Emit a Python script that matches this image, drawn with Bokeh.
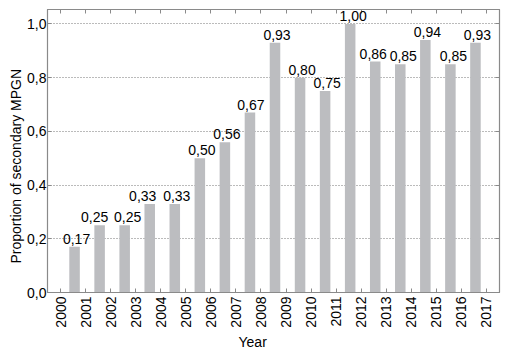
import math
from bokeh.plotting import figure
from bokeh.models import Range1d, FixedTicker, LinearAxis, ColumnDataSource, LabelSet, Title
from bokeh.core.properties import value
from bokeh.embed import file_html
from bokeh.resources import INLINE

years = list(range(2001, 2018))
proportions = [0.17, 0.25, 0.25, 0.33, 0.33, 0.50, 0.56, 0.67, 0.93, 0.80, 0.75,
               1.00, 0.86, 0.85, 0.94, 0.85, 0.93]
x_ticks = list(range(2000, 2018))
y_ticks = [0.0, 0.2, 0.4, 0.6, 0.8, 1.0]
y_tick_labels = ["0,0", "0,2", "0,4", "0,6", "0,8", "1,0"]
value_labels = [f"{v:.2f}".replace(".", ",") for v in proportions]

# horizontal nudges (px) of the value labels, as placed in the original figure
label_nudge_px = [2, -5, 3, -7, 2, 2, 2, 1, 2, 2, 2, 3, -2, 3, 2, 3, 2]

FONT = "Liberation Sans"
BAR = "#bcbdc0"
FRAME = "#8a8a8a"
TXT = "#000000"

src = ColumnDataSource(dict(x=[y - 0.44 for y in years], top=proportions,
                            lab=value_labels, dx=label_nudge_px))

p = figure(width=512, height=353, output_backend="svg", toolbar_location=None,
           x_range=Range1d(1999.48, 2017.52), y_range=Range1d(0, 1.054),
           x_axis_location=None, y_axis_location=None,
           min_border_left=47, min_border_right=13, min_border_top=9, min_border_bottom=61)
p.background_fill_color = "white"
p.border_fill_color = "white"
p.outline_line_color = FRAME
p.outline_line_width = 1.2

p.vbar(x="x", top="top", width=0.42, bottom=0, source=src, fill_color=BAR, line_color=None)

labels = LabelSet(x="x", y="top", text="lab", source=src, text_align="center",
                  text_baseline="alphabetic", x_offset="dx", y_offset=3, text_font=value(FONT),
                  text_font_size="14px", text_color=TXT)
p.add_layout(labels)

def style_axis(ax):
    ax.axis_line_color = FRAME
    ax.major_tick_line_color = FRAME
    ax.major_tick_in = 4
    ax.major_tick_out = 0
    ax.minor_tick_line_color = None
    ax.major_label_text_font = FONT
    ax.major_label_text_font_size = "14px"
    ax.major_label_text_color = TXT

left = LinearAxis(ticker=FixedTicker(ticks=y_ticks))
style_axis(left)
left.major_label_overrides = {t: s for t, s in zip(y_ticks, y_tick_labels)}
left.major_label_standoff = 1
p.add_layout(left, "left")

ylabel = Title(text="Proportion of secondary MPGN", align="left", offset=29, standoff=1,
               text_font=FONT, text_font_size="14px", text_font_style="normal",
               text_color=TXT)
p.add_layout(ylabel, "left")

bottom = LinearAxis(ticker=FixedTicker(ticks=x_ticks))
style_axis(bottom)
bottom.major_label_orientation = math.pi / 2
bottom.major_label_standoff = 4
p.add_layout(bottom, "below")

year_title = Title(text="Year", align="left", offset=191, standoff=3,
                   text_font=FONT, text_font_size="14px", text_font_style="normal",
                   text_color=TXT)
p.add_layout(year_title, "below")

top = LinearAxis(ticker=FixedTicker(ticks=x_ticks))
style_axis(top)
top.major_label_overrides = {t: "" for t in x_ticks}
top.major_label_standoff = 0
p.add_layout(top, "above")

right = LinearAxis(ticker=FixedTicker(ticks=y_ticks))
style_axis(right)
right.major_label_overrides = {t: "" for t in y_ticks}
right.major_label_standoff = 0
p.add_layout(right, "right")

p.xgrid.visible = False
p.ygrid.ticker = FixedTicker(ticks=[0.2, 0.4, 0.6, 0.8, 1.0])
p.ygrid.grid_line_color = "#777777"
p.ygrid.grid_line_dash = "1 2"
p.ygrid.grid_line_width = 1

open("out.html", "w").write(file_html(p, INLINE))
